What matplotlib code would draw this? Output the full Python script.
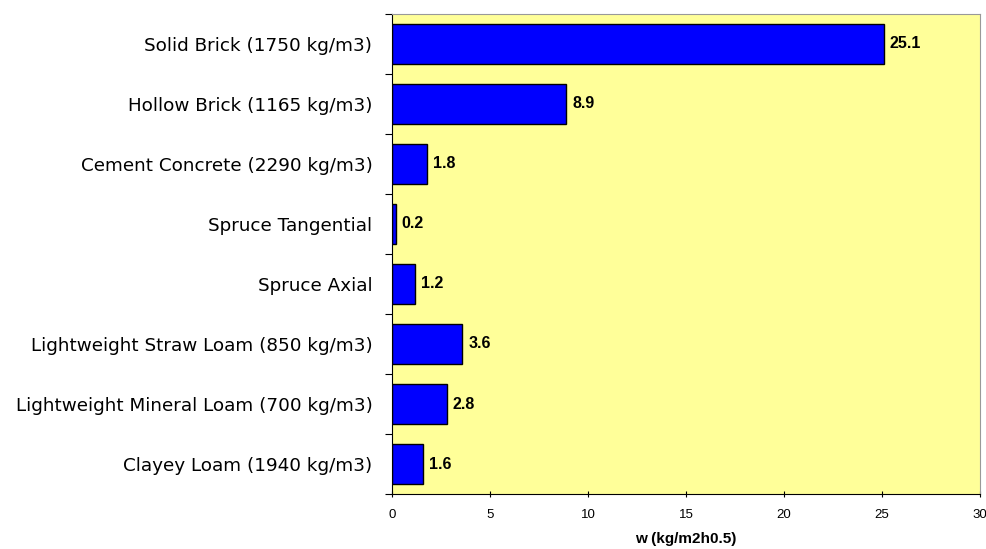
import matplotlib.pyplot as plt
import numpy as np

categories = [
    "Solid Brick (1750 kg/m3)",
    "Hollow Brick (1165 kg/m3)",
    "Cement Concrete (2290 kg/m3)",
    "Spruce Tangential",
    "Spruce Axial",
    "Lightweight Straw Loam (850 kg/m3)",
    "Lightweight Mineral Loam (700 kg/m3)",
    "Clayey Loam (1940 kg/m3)",
]
values = [25.1, 8.9, 1.8, 0.2, 1.2, 3.6, 2.8, 1.6]
x_ticks = [0, 5, 10, 15, 20, 25, 30]

fig = plt.figure(figsize=(9.87, 5.49), dpi=100)
ax = fig.add_axes([0.397, 0.100, 0.596, 0.875])
ax.set_facecolor("#FFFF99")

y = np.arange(len(categories))
ax.barh(y, values, height=0.67, color="#0000FF", edgecolor="black", linewidth=1)

for yi, v in zip(y, values):
    ax.text(v + 0.3, yi, f"{v:.1f}", va="center", ha="left",
            fontsize=11.5, fontweight="bold", family="Liberation Sans")

ax.set_ylim(len(categories) - 0.5, -0.5)
ax.set_xlim(0, 30)
ax.set_yticks(np.arange(len(categories) + 1) - 0.5, minor=False)
ax.set_yticklabels([])
ax.set_yticks(y, minor=True)
ax.set_yticklabels(categories, minor=True, fontsize=13.2, family="DejaVu Sans")
ax.tick_params(axis="y", which="minor", length=0, pad=14)
ax.tick_params(axis="y", which="major", length=5, direction="out", color="black")

ax.set_xticks(x_ticks)
ax.set_xticklabels([str(t) for t in x_ticks], fontsize=9.5, family="Liberation Sans")
ax.tick_params(axis="x", length=5, direction="inout", pad=8)
ax.set_xlabel("w (kg/m2h0.5)", fontsize=11, fontweight="bold",
              family="Liberation Sans", labelpad=8)

ax.spines["top"].set_color("#999999")
ax.spines["right"].set_color("#999999")
ax.spines["left"].set_color("black")
ax.spines["bottom"].set_color("black")

fig.savefig("out.png", dpi=100)
